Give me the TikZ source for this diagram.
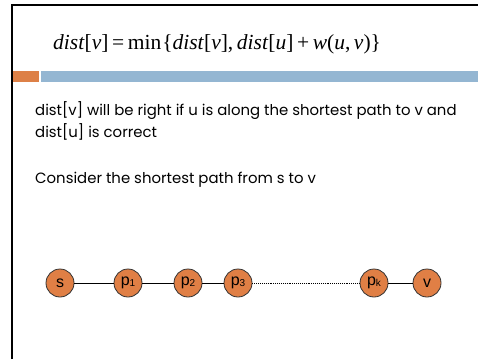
\documentclass[tikz,border=0pt]{standalone}
\usepackage{fontspec}
\setmainfont{Poppins}
\newfontfamily\eqfont{Liberation Serif}
\newfontfamily\labelfont{Liberation Sans}
\usepackage{tikz}
\definecolor{barOrange}{HTML}{DD8047}
\definecolor{barBlue}{HTML}{94B6D2}
\definecolor{vertexOrange}{HTML}{E07F45}
\newcommand{\psub}[1]{p\raisebox{-0.5pt}{\fontsize{10}{10}\selectfont #1}}

\begin{document}
\begin{tikzpicture}[x=1pt, y=-1pt,
  vertex/.style={circle, draw=black!80, line width=0.8pt, fill=vertexOrange,
    minimum size=28pt, inner sep=0pt, font=\labelfont\fontsize{16}{16}\selectfont},
  bodytext/.style={anchor=base west, inner sep=0pt, font=\fontsize{14.9}{18}\selectfont},
  pathedge/.style={line width=0.9pt}]
  \useasboundingbox (0,0) rectangle (478,359);
  % slide frame (left and top only)
  \draw[line width=2.5pt] (12,359) -- (12,5) -- (478,5);
  % title rule: orange stub + blue bar
  \fill[barOrange] (13,71) rectangle (39,82);
  \fill[barBlue] (41,71) rectangle (478,82);
  % relaxation formula as title
  \node[anchor=base west, inner sep=0pt, font=\eqfont\fontsize{21.5}{22}\selectfont] (relax) at (53,49)
    {\textit{dist}[\textit{v}]\,=\,min\hspace{1pt}\{\textit{dist}[\textit{v}],\,\textit{dist}[\textit{u}]\,+\,\textit{w}(\textit{u},\,\textit{v})\}};
  % body text
  \node[bodytext] (line1) at (35,115) {dist[v] will be right if u is along the shortest path to v and};
  \node[bodytext] (line2) at (35,137) {dist[u] is correct};
  \node[bodytext] (line3) at (35,183) {Consider the shortest path from s to v};
  % shortest path s -> v
  \node[vertex] (s)  at (60,283)  {s};
  \node[vertex] (p1) at (128,283) {\psub{1}};
  \node[vertex] (p2) at (188,283) {\psub{2}};
  \node[vertex] (p3) at (238,283) {\psub{3}};
  \node[vertex] (pk) at (374,283) {\psub{k}};
  \node[vertex] (v)  at (427,283) {v};
  \draw[pathedge] (s) -- (p1);
  \draw[pathedge] (p1) -- (p2);
  \draw[pathedge] (p2) -- (p3);
  \draw[pathedge, densely dotted] (p3) -- (pk);
  \draw[pathedge] (pk) -- (v);
\end{tikzpicture}
\end{document}
